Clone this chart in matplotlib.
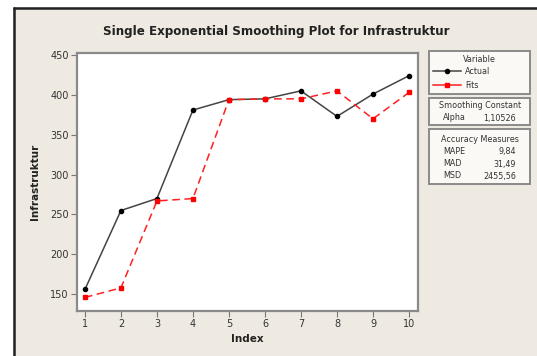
import matplotlib
matplotlib.use("Agg")
import matplotlib.pyplot as plt
from matplotlib.patches import Rectangle
from matplotlib.lines import Line2D

index = [1, 2, 3, 4, 5, 6, 7, 8, 9, 10]
actual = [156, 255, 270, 381, 394, 395, 405, 373, 401, 424]
fits = [146, 158, 267, 270, 394, 395, 395, 405, 370, 403]
yticks = [150, 200, 250, 300, 350, 400, 450]
alpha_label = "1,10526"
acc_names = ["MAPE", "MAD", "MSD"]
acc_values = ["9,84", "31,49", "2455,56"]

W, H = 537, 356
BG = "#EEEAE1"
fig = plt.figure(figsize=(W / 100, H / 100), dpi=100, facecolor=BG)

def fx(px):
    return px / W

def fy(py):
    return 1 - py / H

# white outer strips and dark frame lines (top and left)
fig.patches.append(Rectangle((0, fy(7)), 1, 7 / H, transform=fig.transFigure,
                             facecolor="white", edgecolor="none", zorder=0))
fig.patches.append(Rectangle((0, 0), 13 / W, 1, transform=fig.transFigure,
                             facecolor="white", edgecolor="none", zorder=0))
fig.lines.append(Line2D([fx(13), 1], [fy(7.5), fy(7.5)], transform=fig.transFigure,
                        color="#222222", lw=1.8, solid_capstyle="butt"))
fig.lines.append(Line2D([fx(13.5), fx(13.5)], [0, fy(7)], transform=fig.transFigure,
                        color="#222222", lw=1.8, solid_capstyle="butt"))

left, right, top, bottom = 77, 418, 53, 311
ax = fig.add_axes([fx(left), fy(bottom), fx(right - left), (bottom - top) / H])
ax.set_facecolor("white")

ax.plot(index, actual, color="#444444", lw=1.1, marker="o", ms=3,
        mfc="black", mec="black", label="Actual", zorder=3)
ax.plot(index, fits, color="#ff2020", lw=1.1, ls=(0, (5, 3)), marker="s", ms=3.2,
        mfc="red", mec="red", label="Fits", zorder=3)

ax.set_xlim(0.78, 10.25)
ax.set_ylim(129, 452.5)
ax.set_xticks(index)
ax.set_yticks(yticks)
for s in ax.spines.values():
    s.set_color("#8a8a8a")
    s.set_linewidth(1.6)
ax.tick_params(direction="out", length=4, width=0.8, color="#777777",
               labelsize=7, labelcolor="#333333", pad=2)

ax.set_xlabel("Index", fontsize=7.5, fontweight="bold", color="#222222", labelpad=3)
ax.set_ylabel("Infrastruktur", fontsize=7.5, fontweight="bold", color="#222222", labelpad=7)

fig.text(fx(276), fy(32), "Single Exponential Smoothing Plot for Infrastruktur",
         ha="center", va="center", fontsize=8.6, fontweight="bold", color="#222222")

# side boxes
def box(y0, y1):
    fig.patches.append(Rectangle((fx(429), fy(y1)), (530 - 429) / W, (y1 - y0) / H,
                                 transform=fig.transFigure, facecolor="#FAF9F6",
                                 edgecolor="#8a8a8a", lw=1.4, zorder=1))

box(51, 94)
box(98, 125)
box(129, 184)

fs = 5.8
tc = "#333333"
fig.text(fx(479), fy(60), "Variable", ha="center", va="center", fontsize=fs, color=tc)
fig.lines.append(Line2D([fx(433), fx(447), fx(461)], [fy(71)] * 3, transform=fig.transFigure,
                        color="#444444", lw=1.1, marker="o", ms=3, mfc="black", mec="black",
                        markevery=[1], zorder=2))
fig.text(fx(465), fy(71), "Actual", ha="left", va="center", fontsize=fs, color=tc)
fig.lines.append(Line2D([fx(433), fx(447), fx(461)], [fy(85)] * 3, transform=fig.transFigure,
                        color="#ff2020", lw=1.1, marker="s", ms=3.2, mfc="red", mec="red",
                        markevery=[1], zorder=2))
fig.text(fx(465), fy(85), "Fits", ha="left", va="center", fontsize=fs, color=tc)

fig.text(fx(480), fy(106), "Smoothing Constant", ha="center", va="center", fontsize=fs, color=tc)
fig.text(fx(443), fy(118), "Alpha", ha="left", va="center", fontsize=fs, color=tc)
fig.text(fx(516), fy(118), alpha_label, ha="right", va="center", fontsize=fs, color=tc)

fig.text(fx(480), fy(139), "Accuracy Measures", ha="center", va="center", fontsize=fs, color=tc)
for i, (n, v) in enumerate(zip(acc_names, acc_values)):
    yy = 152 + i * 12
    fig.text(fx(443), fy(yy), n, ha="left", va="center", fontsize=fs, color=tc)
    fig.text(fx(516), fy(yy), v, ha="right", va="center", fontsize=fs, color=tc)

fig.savefig("out.png", dpi=100, facecolor=BG)
